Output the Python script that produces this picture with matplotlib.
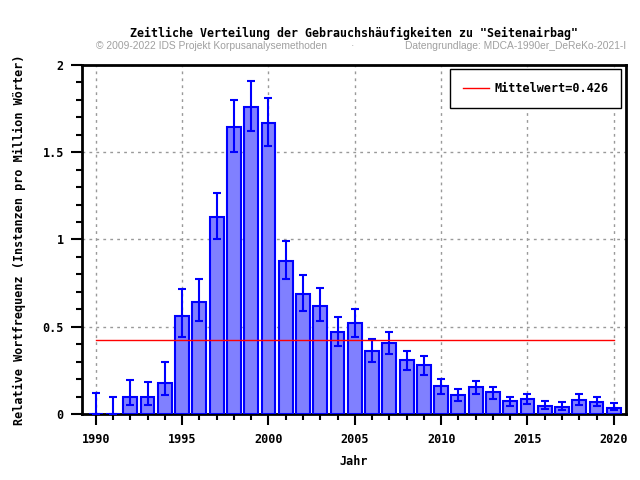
import numpy as np
import matplotlib.pyplot as plt

years = list(range(1990, 2021))
freq = [0.0, 0.0, 0.099, 0.099, 0.18, 0.563, 0.644, 1.131, 1.647, 1.761, 1.67,
        0.879, 0.69, 0.621, 0.472, 0.52, 0.359, 0.405, 0.308, 0.279, 0.159,
        0.107, 0.153, 0.124, 0.073, 0.084, 0.048, 0.042, 0.078, 0.067, 0.036]
err_lo = [0.0, 0.0, 0.05, 0.05, 0.109, 0.443, 0.535, 1.003, 1.503, 1.624, 1.536,
          0.774, 0.592, 0.535, 0.392, 0.443, 0.298, 0.346, 0.252, 0.225, 0.116,
          0.076, 0.116, 0.086, 0.048, 0.057, 0.029, 0.025, 0.053, 0.044, 0.021]
err_hi = [0.118, 0.099, 0.195, 0.185, 0.30, 0.716, 0.774, 1.268, 1.80, 1.908, 1.81,
          0.991, 0.797, 0.722, 0.558, 0.604, 0.432, 0.47, 0.363, 0.334, 0.2,
          0.145, 0.189, 0.157, 0.099, 0.116, 0.076, 0.071, 0.113, 0.099, 0.065]
mean_val = 0.426

mono = 'DejaVu Sans Mono'
fs = 8.5

fig = plt.figure(figsize=(6.4, 4.8), dpi=100)
ax = fig.add_axes([0.128, 0.1375, 0.85, 0.7271])

f = np.array(freq)
lo = f - np.array(err_lo)
hi = np.array(err_hi) - f
ax.bar(years, freq, width=0.8, color='#8080ff', edgecolor='#0000ff', linewidth=1.5, zorder=3)
ax.errorbar(years, freq, yerr=[lo, hi], fmt='none', ecolor='#0000ff',
            elinewidth=1.5, capsize=3, capthick=1.5, zorder=4)
ax.plot([1990, 2020], [mean_val, mean_val], color='red', linewidth=1,
        zorder=5, label='Mittelwert=0.426')

ax.set_xlim(1989.2, 2020.7)
ax.set_ylim(0, 2)
ax.set_xticks(range(1990, 2021, 5))
ax.set_xticks(years, minor=True)
ax.set_yticks([0, 0.5, 1, 1.5, 2])
ax.set_yticklabels(['0', '0.5', '1', '1.5', '2'])
ax.set_yticks(np.arange(0, 2.01, 0.1), minor=True)
ax.tick_params(axis='both', which='major', direction='out', length=8, width=1.5,
               labelsize=fs, pad=5)
ax.tick_params(axis='both', which='minor', direction='out', length=4, width=1.5)
ax.tick_params(axis='x', which='major', pad=6)
for lab in ax.get_xticklabels() + ax.get_yticklabels():
    lab.set_fontfamily(mono)
    lab.set_fontweight('bold')
ax.grid(True, which='major', color='#999999', linestyle=(0, (2, 3)), linewidth=1, zorder=0)
for s in ax.spines.values():
    s.set_linewidth(2)

ax.set_xlabel('Jahr', family=mono, fontweight='bold', fontsize=fs, labelpad=6)
ax.set_ylabel('Relative Wortfrequenz (Instanzen pro Million Wörter)', family=mono,
              fontweight='bold', fontsize=fs, labelpad=12)

leg = ax.legend(loc='upper right', bbox_to_anchor=(0.991, 0.988),
                prop={'family': mono, 'weight': 'bold', 'size': fs},
                fancybox=False, edgecolor='black', framealpha=1, handlelength=2.2,
                handletextpad=0.4, borderpad=1.1, borderaxespad=0)
leg.get_frame().set_linewidth(1)

fig.text(0.553, 0.931, 'Zeitliche Verteilung der Gebrauchshäufigkeiten zu "Seitenairbag"',
         ha='center', va='center', family=mono, fontweight='bold', fontsize=8.4)
fig.text(0.15, 0.904, '© 2009-2022 IDS Projekt Korpusanalysemethoden',
         ha='left', va='center', family='Liberation Sans', fontsize=7.4, color='#a0a0a0')
fig.text(0.55, 0.904, '·', ha='center', va='center', family='Liberation Sans',
         fontsize=7.4, color='#a0a0a0')
fig.text(0.978, 0.904, 'Datengrundlage: MDCA-1990er_DeReKo-2021-I',
         ha='right', va='center', family='Liberation Sans', fontsize=7.4, color='#a0a0a0')

fig.savefig('out.png', dpi=100)
